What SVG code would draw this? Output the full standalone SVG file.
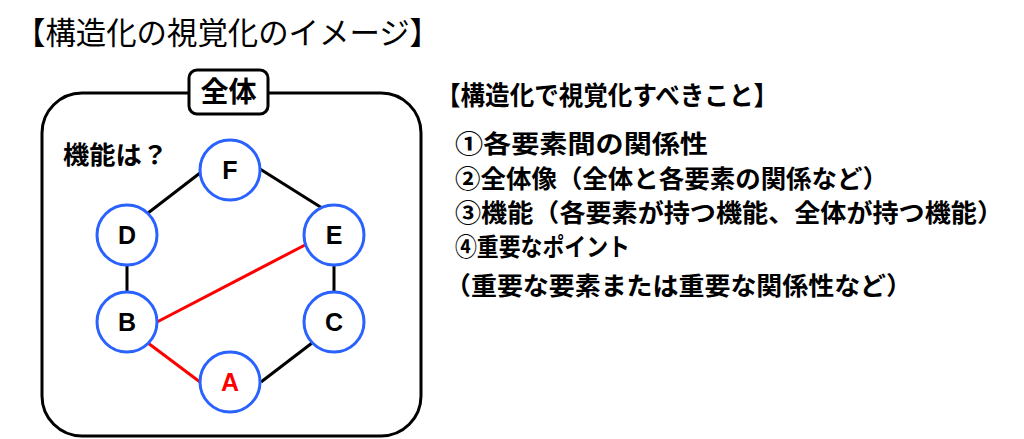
<svg xmlns="http://www.w3.org/2000/svg" width="1024" height="439" viewBox="0 0 1024 439">
<style>
.jp{font-family:"Noto Sans CJK JP","Noto Sans",sans-serif;fill:#000}
.b{font-weight:bold}
.lbl{font-family:"Liberation Sans",Arial,sans-serif;font-weight:bold;font-size:25px;text-anchor:middle;fill:#000}
.node{fill:#fff;stroke:#2962ff;stroke-width:3}
.edge{stroke:#000;stroke-width:3;fill:none}
.red{stroke:#ff0000}
</style>
<rect width="1024" height="439" fill="#fff"/>
<text class="jp" x="15" y="44" font-size="31" textLength="425" lengthAdjust="spacingAndGlyphs">【構造化の視覚化のイメージ】</text>

<g id="whole">
<rect x="42" y="93" width="379" height="343" rx="40" fill="none" stroke="#000" stroke-width="3"/>
<rect x="189" y="70" width="79" height="44" rx="8" fill="#fff" stroke="#000" stroke-width="3"/>
<text class="jp b" x="228.5" y="102" font-size="28" text-anchor="middle">全体</text>
<text class="jp b" x="63" y="164" font-size="25" textLength="105" lengthAdjust="spacingAndGlyphs">機能は？</text>
</g>

<g id="connectors">
<line class="edge" x1="200" y1="173" x2="148" y2="213"/>
<line class="edge" x1="260" y1="169" x2="322" y2="208"/>
<line class="edge" x1="127" y1="266" x2="127" y2="291"/>
<line class="edge" x1="334" y1="266" x2="334" y2="291"/>
<line class="edge" x1="312" y1="343" x2="261" y2="382"/>
<line class="edge red" x1="157" y1="322" x2="305" y2="245"/>
<line class="edge red" x1="148" y1="343" x2="200" y2="382"/>
</g>

<g id="node-F"><circle class="node" cx="230" cy="170" r="30"/><text class="lbl" x="230" y="179">F</text></g>
<g id="node-D"><circle class="node" cx="127" cy="235" r="30"/><text class="lbl" x="127" y="244">D</text></g>
<g id="node-E"><circle class="node" cx="334" cy="235" r="30"/><text class="lbl" x="334" y="244">E</text></g>
<g id="node-B"><circle class="node" cx="127" cy="322" r="30"/><text class="lbl" x="127" y="331">B</text></g>
<g id="node-C"><circle class="node" cx="334" cy="322" r="30"/><text class="lbl" x="334" y="331">C</text></g>
<g id="node-A"><circle class="node" cx="230" cy="382" r="30"/><text class="lbl" x="230" y="391" style="fill:#ff0000">A</text></g>

<g id="list">
<text class="jp b" x="436" y="105" font-size="26" textLength="342" lengthAdjust="spacingAndGlyphs">【構造化で視覚化すべきこと】</text>
<text class="jp b" x="455" y="153" font-size="25" textLength="253" lengthAdjust="spacingAndGlyphs">①各要素間の関係性</text>
<text class="jp b" x="455" y="188" font-size="25" textLength="433" lengthAdjust="spacingAndGlyphs">②全体像（全体と各要素の関係など）</text>
<text class="jp b" x="455" y="222" font-size="25" textLength="548" lengthAdjust="spacingAndGlyphs">③機能（各要素が持つ機能、全体が持つ機能）</text>
<text class="jp b" x="455" y="256" font-size="25" textLength="175" lengthAdjust="spacingAndGlyphs">④重要なポイント</text>
<text class="jp b" x="445" y="295" font-size="25" textLength="467" lengthAdjust="spacingAndGlyphs">（重要な要素または重要な関係性など）</text>
</g>
</svg>
